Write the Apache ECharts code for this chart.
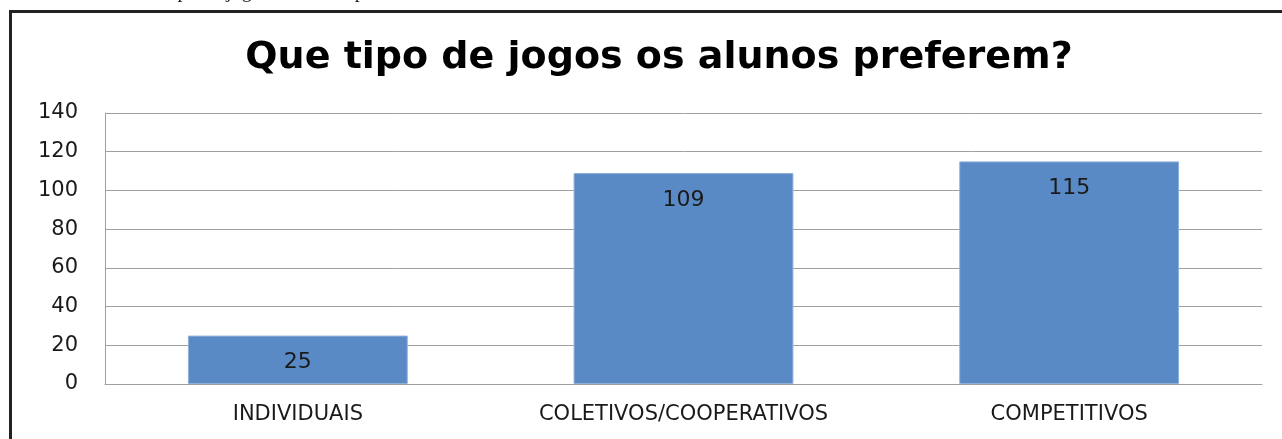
<!DOCTYPE html>
<html>
<head>
<meta charset="utf-8">
<script src="https://cdn.jsdelivr.net/npm/echarts@6/dist/echarts.min.js"></script>
<style>
  html, body { margin: 0; padding: 0; background: #fff; }
  #main { width: 1282px; height: 439px; }
</style>
</head>
<body>
<div id="main"></div>
<script>
// dados do gráfico
var categorias = ['INDIVIDUAIS', 'COLETIVOS/COOPERATIVOS', 'COMPETITIVOS'];
var valores = [25, 109, 115];
var eixoY = { min: 0, max: 140, interval: 20 };

var myChart = echarts.init(document.getElementById('main'));
var option = {
    animation: false,
    backgroundColor: '#fff',
    title: {
        text: 'Que tipo de jogos os alunos preferem?',
        left: 654,
        top: 34,
        textAlign: 'center',
        textStyle: {
            fontFamily: 'DejaVu Sans',
            fontWeight: 'bold',
            fontSize: 38,
            color: '#000'
        }
    },
    graphic: [
        {   // moldura do quadro
            type: 'rect',
            shape: { x: 10.5, y: 11.5, width: 1400, height: 600 },
            style: { fill: null, stroke: '#222', lineWidth: 3 },
            silent: true
        },
        {   // legenda cortada no topo
            type: 'text',
            left: 128,
            top: -18,
            style: {
                text: 'Que tipo de jogos os alunos preferem',
                font: '20px "Liberation Serif"',
                fill: '#222'
            },
            silent: true
        }
    ],
    grid: {
        left: 105,
        right: 20,
        top: 113,
        bottom: 55
    },
    xAxis: {
        type: 'category',
        data: categorias,
        axisLine: { lineStyle: { color: '#a0a0a0', width: 1 } },
        axisTick: { show: false },
        axisLabel: {
            margin: 20,
            fontFamily: 'DejaVu Sans',
            fontSize: 21,
            color: '#1a1a1a'
        }
    },
    yAxis: {
        type: 'value',
        min: eixoY.min,
        max: eixoY.max,
        interval: eixoY.interval,
        axisLine: { show: true, lineStyle: { color: '#a0a0a0', width: 1 } },
        axisTick: { show: false },
        axisLabel: {
            margin: 27,
            fontFamily: 'DejaVu Sans',
            fontSize: 21,
            color: '#1a1a1a'
        },
        splitLine: { lineStyle: { color: '#a0a0a0', width: 1 } }
    },
    series: [{
        type: 'bar',
        data: valores,
        barWidth: '57%',
        itemStyle: {
            color: '#5a8ac6',
            borderColor: '#8fb0da',
            borderWidth: 1
        },
        label: {
            show: true,
            position: 'insideTop',
            distance: 16,
            fontFamily: 'DejaVu Sans',
            fontSize: 22,
            color: '#1a1a1a'
        }
    }]
};
myChart.setOption(option);
</script>
</body>
</html>
